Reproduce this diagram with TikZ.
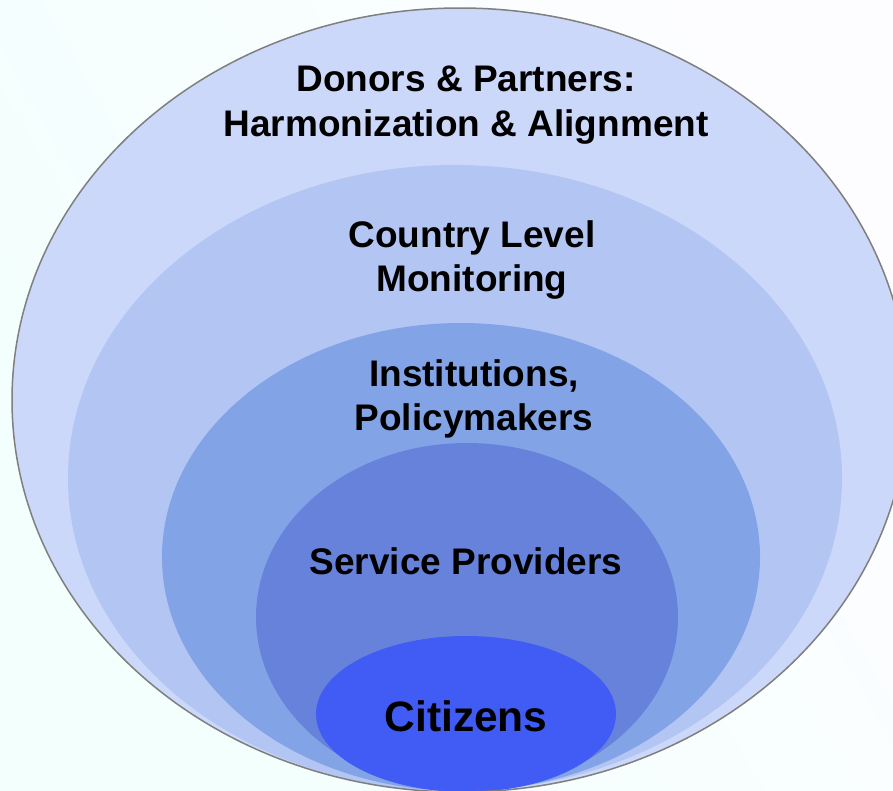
\documentclass[tikz,border=0pt]{standalone}
\usepackage{fontspec}
\setmainfont{Liberation Sans}
\definecolor{bgA}{HTML}{FDFDFF}
\definecolor{bgB}{HTML}{F2FFFD}
\definecolor{ringA}{HTML}{CCD8F9}
\definecolor{ringB}{HTML}{B2C5F3}
\definecolor{ringC}{HTML}{83A3E7}
\definecolor{ringD}{HTML}{6782DB}
\definecolor{ringE}{HTML}{405CF5}
\definecolor{rim}{HTML}{7F7F7F}
\begin{document}
\begin{tikzpicture}[x=1pt,y=-1pt,
  lbl/.style={font=\bfseries\fontsize{37}{44.5}\selectfont, align=center, text=black, inner sep=0pt},
  biglbl/.style={font=\bfseries\fontsize{42.5}{48}\selectfont, align=center, text=black, inner sep=0pt}]
\useasboundingbox (0,0) rectangle (893,790);
\clip (0,0) rectangle (893,790);
\shade[left color=bgA, right color=bgB, shading angle=-60] (0,0) rectangle (893,790);
% rings
\fill[ringA] (460,400) ellipse [x radius=448, y radius=392];
\fill[ringB] (455,478) ellipse [x radius=387, y radius=313];
\fill[ringC] (461,557) ellipse [x radius=299, y radius=234];
\fill[ringD] (467,617) ellipse [x radius=211, y radius=174];
\fill[ringE] (466,714) ellipse [x radius=150, y radius=78];
\draw[rim, line width=1.5pt] (460,400) ellipse [x radius=448, y radius=392];
% labels
\node[lbl] (donors) at (466,105) {Donors \& Partners:\\Harmonization \& Alignment};
\node[lbl] (country) at (472,260) {Country Level\\Monitoring};
\node[lbl] (inst) at (474,399) {Institutions,\\Policymakers};
\node[lbl] (serv) at (466,561) {Service Providers};
\node[biglbl] (cit) at (466,716) {Citizens};
\end{tikzpicture}
\end{document}
